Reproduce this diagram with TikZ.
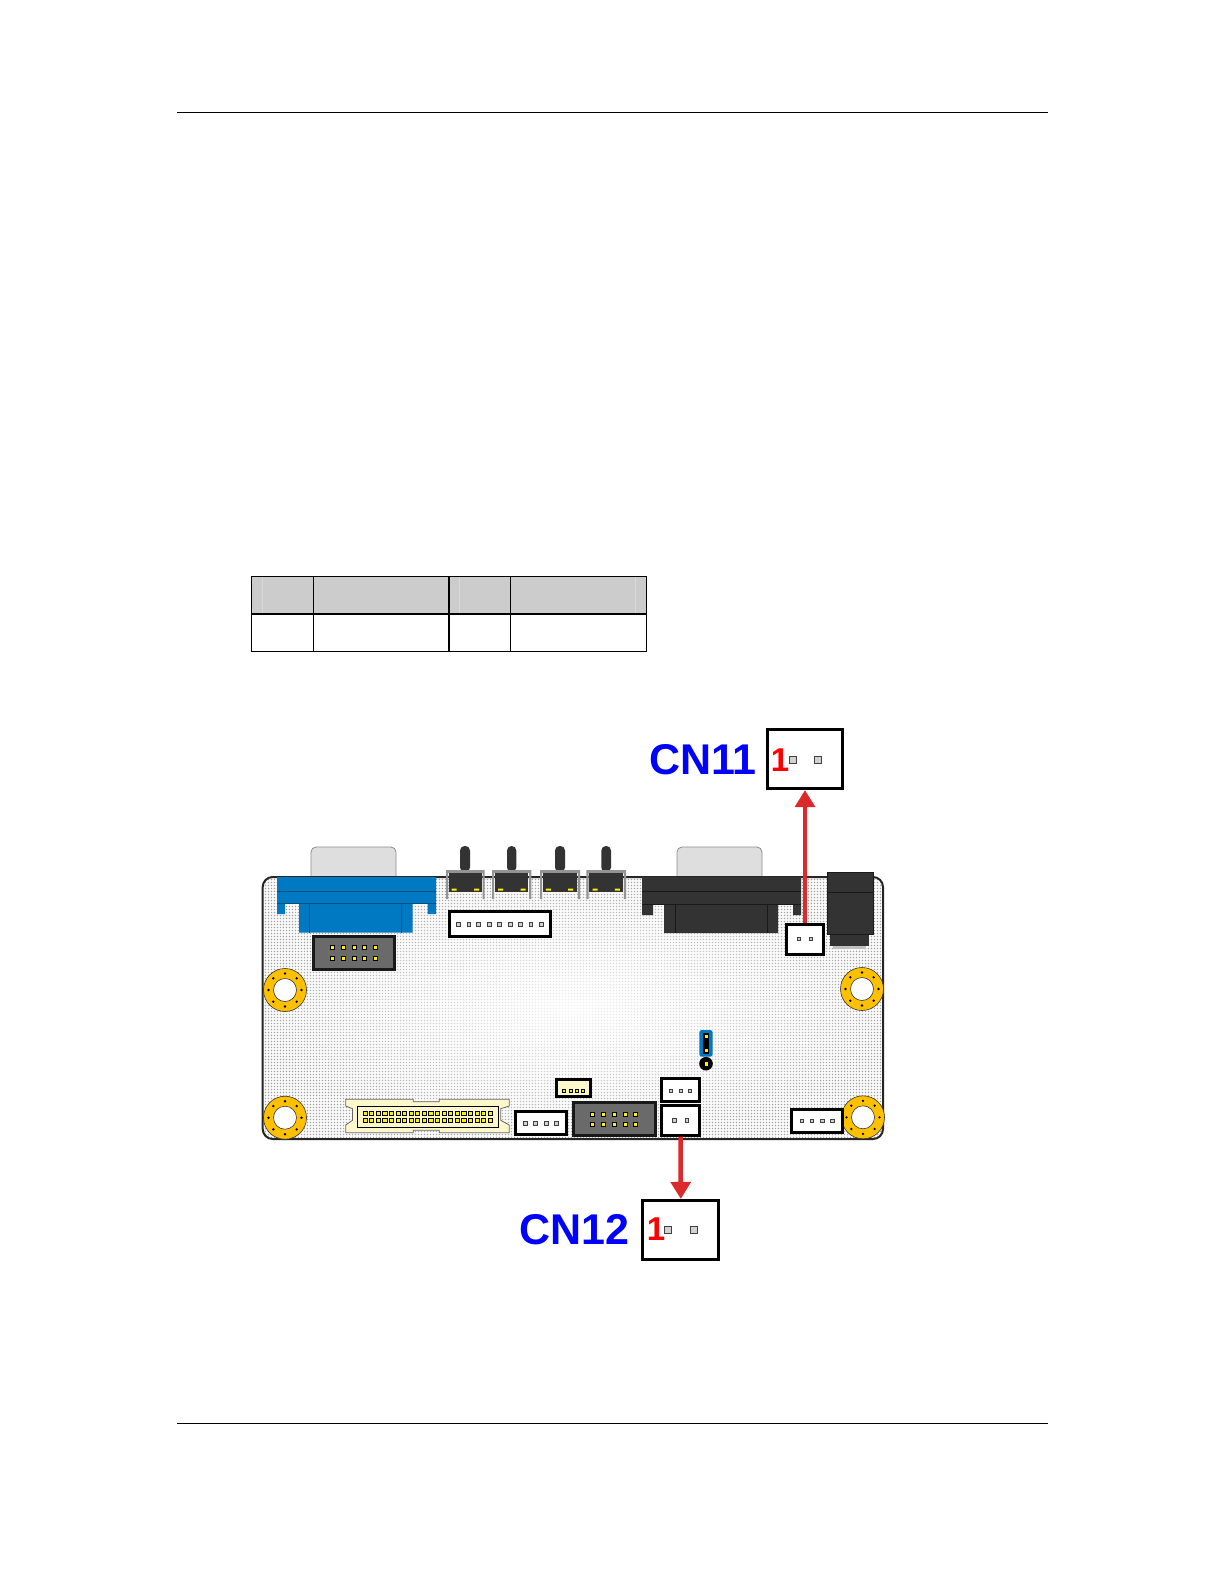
\documentclass[tikz,border=0pt]{standalone}
\usepackage{fontspec}
\setmainfont{Liberation Sans}
\usetikzlibrary{arrows.meta}
\definecolor{pcbblue}{HTML}{0079C2}
\definecolor{pcbblueline}{HTML}{00507F}
\definecolor{pcbdark}{HTML}{333333}
\definecolor{pcbgold}{HTML}{FFC000}
\definecolor{pcbcream}{HTML}{FDF7CC}
\definecolor{arrowred}{HTML}{DC2A2A}
\definecolor{hdrgray}{HTML}{6A6A6A}
\tikzset{
  connbox/.style={draw=black,fill=white,line width=3pt,inner sep=0pt,outer sep=1.5pt},
  callout/.style={connbox},
  linkarrow/.style={draw=arrowred,line width=4.5pt,-{Triangle[width=19.5pt,length=17pt,fill=arrowred]}},
  cnlabel/.style={text=blue,inner sep=0pt,font=\fontsize{43}{43}\selectfont\bfseries},
  pinone/.style={text=red,inner sep=0pt,font=\fontsize{33}{33}\selectfont\bfseries},
  rulel/.style={line width=1.2pt,black},
  tbl/.style={black,line width=1pt},
}
\newcommand{\connb}[6][connbox]{\node[#1,minimum width=#5pt-3pt,minimum height=#6pt-3pt] (#2) at (#3,#4) {};}
\newcommand{\wpin}[3][3.6]{\filldraw[fill=black!18,draw=black!75,line width=.6pt] (#2-#1/2,#3-#1/2) rectangle (#2+#1/2,#3+#1/2);}
\newcommand{\ypin}[3][4]{\filldraw[fill=yellow,draw=black,line width=.5pt] (#2-#1/2,#3-#1/2) rectangle (#2+#1/2,#3+#1/2);}
\newcommand{\mhole}[2]{%
  \filldraw[fill=pcbgold,draw=black!80,line width=.6pt] (#1,#2) circle[radius=21.5];
  \filldraw[fill=white,draw=black!80,line width=.6pt] (#1,#2) circle[radius=11.5];
  \foreach \a in {0,45,...,315}{\fill[black] (#1,#2) ++(\a:16.5) circle[radius=1.3];}}
\newcommand{\tswitch}[6]{%
  \fill[pcbdark,rounded corners=4.5pt] (#3,872) -- (#3,846) -- (#4,846) -- (#4,872) -- cycle;
  \fill[black!42] (#1,870) rectangle (#2,873) (#1,870) rectangle (#1+2.2,899) (#2-2.2,870) rectangle (#2,899);
  \fill[pcbdark] (#1+3,873) rectangle (#2-3,892);
  \fill[yellow] (#5-2.5,888.5) rectangle (#5+2.5,890.5) (#6-2.5,888.5) rectangle (#6+2.5,890.5);}
\begin{document}
\begin{tikzpicture}[x=1pt,y=-1pt]
\useasboundingbox (0,0) rectangle (1225,1585);
\fill[white] (0,0) rectangle (1225,1585);
% page rules
\coordinate (rtl) at (177,112.3); \coordinate (rtr) at (1048,112.3);
\coordinate (rbl) at (177,1423.3); \coordinate (rbr) at (1048,1423.3);
\draw[rulel] (rtl) -- (rtr);
\draw[rulel] (rbl) -- (rbr);
% table
\fill[black!20] (251,576) rectangle (646.7,614);
\draw[white!85!black,line width=.8pt] (262.3,577) -- (262.3,613) (459.3,577) -- (459.3,613) (635.7,577) -- (635.7,613);
\draw[tbl] (251,576) rectangle (646.7,651.7);
\draw[black,line width=1.8pt] (251,614) -- (646.7,614) (449,576) -- (449,651.7) (646.4,576) -- (646.4,651.7);
\draw[tbl] (313.3,576) -- (313.3,651.7) (510.3,576) -- (510.3,651.7);
% D-sub bodies that stick out of the board
\filldraw[fill=black!13,draw=black!45,line width=.8pt,rounded corners=5pt] (311,878) -- (311,847) -- (396,847) -- (396,878);
\filldraw[fill=black!13,draw=black!45,line width=.8pt,rounded corners=5pt] (677,878) -- (677,847) -- (762,847) -- (762,878);
% board
\begin{scope}
\clip[rounded corners=10pt] (262.7,877) rectangle (883,1139);
\shade[inner color=black!4,middle color=black!12,outer color=black!36] (262.7,877) rectangle (883,1139);
\foreach \v in {264,267,...,883}{\draw[white,opacity=.8,line width=1.5pt] (\v,877) -- (\v,1139);}
\foreach \v in {878,881,...,1139}{\draw[white,opacity=.8,line width=1.5pt] (262,\v) -- (884,\v);}
\end{scope}
\draw[black!85,line width=2pt,rounded corners=10pt] (262.7,877) rectangle (883,1139);
% blue VGA connector
\fill[pcbblue] (277,877) rectangle (436,903) (277,903) rectangle (285,914) (427.5,903) rectangle (436,914) (299,903) rectangle (412.5,932.5);
\draw[pcbblueline,line width=.7pt] (277,891) -- (436,891) (277,903) -- (436,903) (309.5,903) -- (309.5,932.5) (401.5,903) -- (401.5,932.5);
% black serial connector
\fill[pcbdark] (642,877) rectangle (801,904) (642,904) rectangle (653,915) (793,904) rectangle (801,915) (664,904) rectangle (778,933);
\draw[black!90,line width=.7pt] (642,891) -- (801,891) (642,904) -- (801,904) (675.7,904) -- (675.7,933) (767,904) -- (767,933);
% power jack
\fill[black!25] (833,946) rectangle (866,949);
\fill[pcbdark] (830,935) rectangle (869,946);
\filldraw[fill=pcbdark,draw=black!90,line width=.8pt] (827.4,872.4) rectangle (873.6,934.6);
\draw[black!90,line width=.8pt] (827.4,892) -- (873.6,892);
% switches
\tswitch{446}{484.7}{460}{470}{454}{476.5}
\tswitch{492}{531.3}{507}{516.3}{500.7}{523}
\tswitch{540}{580}{555}{565}{548.3}{570.7}
\tswitch{586.3}{626}{601.3}{611}{595}{617.3}
% header 1
\node[draw=black!90,fill=hdrgray,line width=3pt,inner sep=0pt,minimum width=81pt,minimum height=32.5pt] (hdra) at (354,953) {};
\foreach \x in {332,343,354,364,375}{\ypin{\x}{947.3}\ypin{\x}{958}}
% header 2
\node[draw=black!90,fill=hdrgray,line width=3pt,inner sep=0pt,minimum width=82pt,minimum height=32.7pt] (hdrb) at (614.2,1118.8) {};
\foreach \x in {592.7,603.3,614.3,625,635.3}{\ypin{\x}{1114}\ypin{\x}{1124.7}}
% nine-pin connector
\connb{conna}{500}{924}{104}{28}
\foreach \x in {458.3,468.7,478.3,489.3,499.3,510,520.3,530.7,541.3}{\wpin{\x}{924.3}}
% holes
\mhole{285}{990}
\mhole{862}{989}
\mhole{285}{1117.7}
\mhole{863}{1117.3}
% FPC connector
\filldraw[fill=pcbcream,draw=black!60,line width=.8pt]
 (345.7,1099.3) -- (413.3,1099.3) -- (413.3,1101.7) -- (439.3,1101.7) -- (439.3,1099.3) -- (509.3,1099.3) -- (509.3,1106) -- (500.7,1108.7) -- (500.7,1120.3) -- (509.3,1125) -- (509.3,1132.7) -- (439.3,1132.7) -- (439.3,1130.3) -- (413.3,1130.3) -- (413.3,1132.7) -- (345.7,1132.7) -- (345.7,1125) -- (352.5,1120.3) -- (352.5,1108.7) -- (345.7,1106) -- cycle;
\draw[black,line width=.8pt] (357.3,1106) rectangle (498.3,1127.3);
\foreach \i in {0,...,19}{\pgfmathsetmacro{\px}{365+6.58*\i}\ypin[4.2]{\px}{1113.4}\ypin[4.2]{\px}{1120}}
% small connectors
\connb{connb}{541}{1123}{54}{26}
\foreach \x in {525.3,535.3,546,556}{\wpin{\x}{1123}}
\node[connbox,fill=pcbcream,minimum width=34pt,minimum height=17pt] (connc) at (573.5,1088) {};
\foreach \x in {564,570.7,577,583}{\ypin[3.4]{\x}{1091}}
\connb{connd}{680.5}{1089.8}{41}{25.7}
\foreach \x in {671,681,690}{\wpin[3]{\x}{1090.3}}
\connb{conne}{817}{1120.7}{54}{26}
\foreach \x in {801.7,811.7,822,832}{\wpin{\x}{1120.7}}
% jumper
\fill[black] (706,1063.7) circle[radius=6.8];
\fill[pcbblue,rounded corners=2.5pt] (699.3,1030) rectangle (712.7,1056.7);
\fill[black] (703,1033) rectangle (709,1054);
\ypin[4.4]{706}{1036.3}
\ypin[4.4]{706}{1050}
\ypin[4.4]{706}{1063.7}
% CN11 / CN12 on the board
\connb{cnelevenb}{805}{939.5}{40}{33}
\wpin[3.2]{799}{939}\wpin[3.2]{811}{939}
\connb{cntwelveb}{680.5}{1120.3}{41}{32.7}
\wpin[3.8]{674.3}{1120.3}\wpin[3.4]{687}{1120.3}
% call-out boxes
\connb[callout]{cneleven}{805}{759}{78}{62}
\wpin[7]{792.7}{759.7}\wpin[7]{818}{759.7}
\node[pinone] (oneeleven) at (780,760) {1};
\node[cnlabel,anchor=west] (labeleleven) at (649,759.5) {CN11};
\connb[callout]{cntwelve}{680.8}{1229.8}{79}{61.7}
\wpin[7]{668}{1229.7}\wpin[7]{693.3}{1229.7}
\node[pinone] (onetwelve) at (656,1229.5) {1};
\node[cnlabel,anchor=west] (labeltwelve) at (519,1230) {CN12};
% arrows
\draw[linkarrow] (cnelevenb.north) -- (cneleven.south);
\draw[linkarrow] (cntwelveb.south) -- (cntwelve.north);
\end{tikzpicture}
\end{document}
